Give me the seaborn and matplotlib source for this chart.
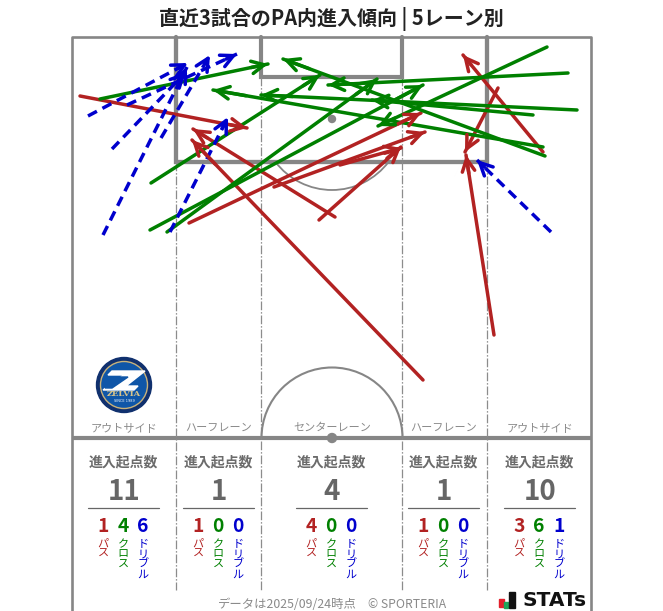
import numpy as np
import pandas as pd
import matplotlib
matplotlib.use('Agg')
import matplotlib.pyplot as plt
from matplotlib.patches import Arc, Circle, Polygon, Rectangle
import seaborn as sns

# arrows (start x, start y, end x, end y), screen pixels
pass_x0 = [80, 189, 335, 319, 274, 340, 423, 494, 543, 498]
pass_y0 = [96, 223, 217, 220, 187, 165, 380, 335, 152, 88]
pass_x1 = [247, 421, 193, 401, 425, 401, 192, 466, 463, 465]
pass_y1 = [128, 113, 129, 147, 132, 148, 140, 155, 55, 152]

cross_x0 = [100, 151, 150, 167, 547, 568, 577, 533, 543, 545]
cross_y0 = [99, 183, 230, 232, 47, 73, 110, 115, 147, 156]
cross_x1 = [268, 320, 423, 377, 378, 328, 261, 372, 213, 283]
cross_y1 = [64, 75, 85, 79, 126, 85, 95, 100, 90, 59]

dribble_x0 = [88, 112, 103, 127, 161, 170, 551]
dribble_y0 = [116, 149, 235, 105, 138, 232, 232]
dribble_x1 = [188, 186, 187, 237, 210, 228, 477]
dribble_y1 = [63, 72, 67, 54, 55, 117, 160]

lane_names = ['アウトサイド', 'ハーフレーン', 'センターレーン', 'ハーフレーン', 'アウトサイド']
lane_centers = [123, 218, 331, 443, 539]
lane_totals = [11, 1, 4, 1, 10]
lane_pass = [1, 1, 4, 1, 3]
lane_cross = [4, 0, 0, 0, 6]
lane_dribble = [6, 0, 0, 0, 1]

RED = '#b22222'
GREEN = '#008000'
BLUE = '#0000cd'
LINE = '#868686'

sns.set_theme(style='white')
plt.rcParams['font.family'] = ['Noto Sans CJK JP', 'DejaVu Sans']

fig, ax = plt.subplots(figsize=(6.63, 6.11), dpi=100)
fig.subplots_adjust(0, 0, 1, 1)
ax.set_xlim(0, 663)
ax.set_ylim(611, 0)
ax.axis('off')

# pitch
ax.plot([72, 72, 591, 591], [611, 37, 37, 611], color=LINE, lw=1.9, zorder=1)
ax.plot([72, 591], [438, 438], color=LINE, lw=3, zorder=1, solid_capstyle='butt')
ax.plot([176, 176, 487, 487], [37, 162, 162, 37], color=LINE, lw=3.1, zorder=1, solid_joinstyle='miter')
ax.plot([261, 261, 402, 402], [37, 77, 77, 37], color=LINE, lw=3, zorder=1, solid_joinstyle='miter')
for x, top in zip([176, 261, 402, 487], [162, 77, 77, 162]):
    ax.plot([x, x], [top, 590], color='#8c8c8c', lw=0.9, ls=(0, (7, 1.5, 1.2, 1.5)), zorder=1)
ax.add_patch(Arc((332, 119), 142, 142, theta1=37, theta2=143, color=LINE, lw=1.3, zorder=1))
ax.add_patch(Arc((332, 438), 141, 141, theta1=180, theta2=360, color=LINE, lw=1.5, zorder=1))
ax.add_patch(Circle((332, 119), 3.5, color=LINE, zorder=1))
ax.add_patch(Circle((332, 438), 4.5, color=LINE, zorder=1))

# arrows
rows = []
for kind, xs0, ys0, xs1, ys1 in [('pass', pass_x0, pass_y0, pass_x1, pass_y1),
                                 ('cross', cross_x0, cross_y0, cross_x1, cross_y1),
                                 ('dribble', dribble_x0, dribble_y0, dribble_x1, dribble_y1)]:
    for i in range(len(xs0)):
        rows.append({'kind': kind, 'id': f'{kind}{i}', 'x': xs0[i], 'y': ys0[i]})
        rows.append({'kind': kind, 'id': f'{kind}{i}', 'x': xs1[i], 'y': ys1[i]})
arrows = pd.DataFrame(rows)

palette = {'pass': RED, 'cross': GREEN, 'dribble': BLUE}
sns.lineplot(data=arrows, x='x', y='y', hue='kind', style='kind', units='id', estimator=None,
             sort=False, palette=palette, hue_order=['pass', 'cross', 'dribble'],
             dashes={'pass': '', 'cross': '', 'dribble': (2.9, 1.8)},
             lw=2.5, legend=False, ax=ax, zorder=3)
ax.set_xlim(0, 663)
ax.set_ylim(611, 0)
ax.set_xlabel('')
ax.set_ylabel('')

for kind, xs0, ys0, xs1, ys1 in [('pass', pass_x0, pass_y0, pass_x1, pass_y1),
                                 ('cross', cross_x0, cross_y0, cross_x1, cross_y1),
                                 ('dribble', dribble_x0, dribble_y0, dribble_x1, dribble_y1)]:
    for a, b, c, d in zip(xs0, ys0, xs1, ys1):
        back = (c - (c - a) * 0.1, d - (d - b) * 0.1)
        ax.annotate('', xy=(c, d), xytext=back, zorder=4,
                    arrowprops=dict(arrowstyle='->,head_length=0.9,head_width=0.45', color=palette[kind],
                                    lw=2.5, shrinkA=0, shrinkB=0, mutation_scale=10))

# title and lane summary
ax.text(331, 19, '直近3試合のPA内進入傾向 | 5レーン別', ha='center', va='center', fontsize=14.4,
        fontweight='bold', color='#222222')

for i, cx in enumerate(lane_centers):
    ax.text(cx + 1, 428, lane_names[i], ha='center', va='center', fontsize=8, color='#8a8a8a')
    ax.text(cx, 462, '進入起点数', ha='center', va='center', fontsize=10, fontweight='bold', color='#6b6b6b')
    ax.text(cx + 1, 492, str(lane_totals[i]), ha='center', va='center', fontsize=20, fontweight='bold', color='#666666')
    ax.plot([cx - 35.5, cx + 35.5], [508, 508], color='#666666', lw=0.9)
    for off, val, col, word in [(-20, lane_pass[i], RED, 'パス'),
                                (0, lane_cross[i], GREEN, 'クロス'),
                                (20, lane_dribble[i], BLUE, 'ドリブル')]:
        ax.text(cx + off, 527, str(val), ha='center', va='center', fontsize=13.8, fontweight='bold', color=col)
        for j, ch in enumerate(word):
            ax.text(cx + off, 544 + j * 10.2, ch, ha='center', va='center', fontsize=8, color=col)

ax.text(218, 604, 'データは2025/09/24時点', ha='left', va='center', fontsize=8.9, color='#8a8a8a')
ax.text(446, 604, '© SPORTERIA', ha='right', va='center', fontsize=8.8, color='#8a8a8a')

# club crest
ax.add_patch(Circle((124, 385), 27.5, color='#10306e', zorder=5))
ax.add_patch(Circle((124, 385), 23.5, fc='#0f56a8', ec='#c9b27a', lw=1, zorder=5))
ax.add_patch(Polygon([(112, 371), (145, 371), (126, 386), (138, 386), (134, 390), (103, 390),
                      (124, 375), (108, 375)], color='white', zorder=6))
ax.add_patch(Polygon([(116, 377), (128, 377), (112, 388), (105, 388)], color='#0f56a8', zorder=6))
ax.text(124, 394.5, 'ZELVIA', ha='center', va='center', fontsize=6, fontweight='bold', color='#d8c48a',
        family='DejaVu Serif', zorder=7)
ax.text(124, 400.5, 'SINCE 1989', ha='center', va='center', fontsize=2.5, color='white', family='DejaVu Sans', zorder=7)

# STATS logo
ax.add_patch(Rectangle((499, 599), 4.5, 8, color='#e3202c', zorder=5))
ax.add_patch(Rectangle((504, 602), 4, 5.5, color='#1ea55a', zorder=5))
ax.add_patch(Rectangle((509, 592), 6, 15.5, color='#111111', zorder=5))
ax.text(523, 600.5, 'STATs', ha='left', va='center', fontsize=14.5, fontweight='bold', color='#111111',
        family='DejaVu Sans', zorder=5)

fig.savefig('out.png', dpi=100, facecolor='white')
